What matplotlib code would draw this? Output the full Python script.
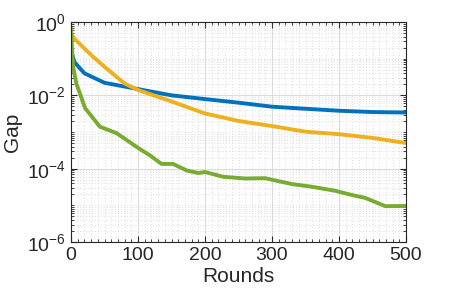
import numpy as np
import matplotlib.pyplot as plt
from matplotlib.ticker import (FixedLocator, LogLocator, MultipleLocator,
                               LogFormatterSciNotation, NullFormatter)

plt.rcParams['font.family'] = 'Liberation Sans'
plt.rcParams['mathtext.fontset'] = 'custom'
plt.rcParams['mathtext.rm'] = 'Liberation Sans'
plt.rcParams['mathtext.default'] = 'regular'

# curves
rounds_blue = [0, 5, 20, 50, 100, 150, 200, 250, 300, 350, 400, 450, 500]
gap_blue = [0.174, 0.081, 0.040, 0.022, 0.0148, 0.010, 0.0079, 0.0063, 0.0049,
            0.0043, 0.0038, 0.0035, 0.0034]

rounds_orange = [0, 5, 30, 50, 80, 100, 150, 200, 250, 300, 350, 400, 450, 500]
gap_orange = [0.5, 0.35, 0.126, 0.060, 0.021, 0.014, 0.0068, 0.0032, 0.0020,
              0.00145, 0.00102, 0.00087, 0.00069, 0.0005]

rounds_green = [0, 3, 8, 21, 43, 68, 103, 118, 135, 152, 173, 190, 200, 227,
                260, 290, 302, 330, 360, 394, 420, 439, 469, 500]
gap_green = [0.63, 0.063, 0.021, 0.0045, 0.0014, 0.00093, 0.00034, 0.00023,
             0.000135, 0.000135, 8.9e-5, 7.6e-5, 8.1e-5, 6.0e-5, 5.4e-5, 5.5e-5,
             4.9e-5, 3.8e-5, 3.2e-5, 2.5e-5, 1.9e-5, 1.6e-5, 9.5e-6, 9.6e-6]

fig = plt.figure(figsize=(4.5, 3), dpi=100)
ax = fig.add_axes([71 / 450, 58 / 300, 335 / 450, 220 / 300])

ax.plot(rounds_blue, gap_blue, color=(0, 0.447, 0.741), lw=2.8)
ax.plot(rounds_orange, gap_orange, color=(0.929, 0.694, 0.125), lw=2.8)
ax.plot(rounds_green, gap_green, color=(0.466, 0.674, 0.188), lw=2.8)

ax.set_yscale('log')
ax.set_xlim(0, 500)
ax.set_ylim(1e-6, 1)
ax.yaxis.set_major_locator(FixedLocator([1e-6, 1e-4, 1e-2, 1e0]))
ax.yaxis.set_major_formatter(LogFormatterSciNotation())
ax.yaxis.set_minor_locator(LogLocator(base=10, subs=np.arange(1, 10), numticks=20))
ax.yaxis.set_minor_formatter(NullFormatter())
ax.xaxis.set_major_locator(MultipleLocator(100))
ax.xaxis.set_minor_locator(MultipleLocator(10))

ax.grid(which='major', color='#dcdcdc', lw=0.8, ls='-')
ax.grid(which='minor', color='#d4d4d4', lw=0.6, ls=(0, (1, 2.5)))
ax.set_axisbelow(True)

ax.tick_params(which='both', direction='in', top=True, right=True,
               colors='#262626', labelsize=14)
ax.tick_params(which='major', length=4)
ax.tick_params(which='minor', length=2)
for s in ax.spines.values():
    s.set_color('#262626')
    s.set_linewidth(0.8)

ax.set_xlabel('Rounds', fontsize=15, color='#262626', labelpad=2)
ax.set_ylabel('Gap', fontsize=15, color='#262626', labelpad=4)

fig.savefig('out.png', dpi=100)
